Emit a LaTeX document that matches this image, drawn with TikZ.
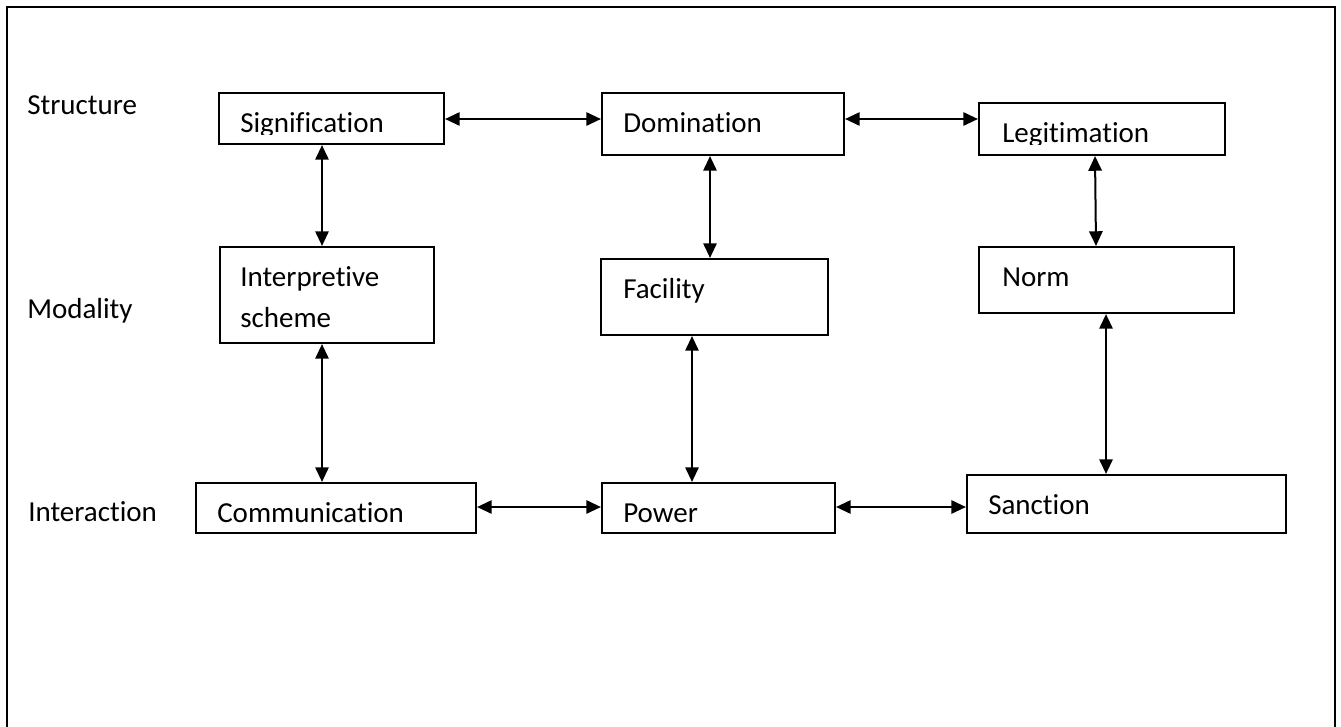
\documentclass[tikz,border=0pt]{standalone}
\usepackage{fontspec}
\setmainfont{Carlito}[Ligatures=NoCommon]
\usetikzlibrary{arrows.meta,fit}
\begin{document}
\begin{tikzpicture}[x=0.75pt,y=-0.75pt,
  box/.style={draw,line width=1.6pt,inner sep=0pt},
  lbl/.style={inner sep=0pt,anchor=base west,font=\fontsize{21.75pt}{26pt}\selectfont},
  link/.style={line width=1.5pt,{Triangle[length=11pt,width=10pt]}-{Triangle[length=11pt,width=10pt]}},
  frame/.style={line width=1.5pt}]
\useasboundingbox (0,0) rectangle (1341,726);
% outer frame (runs off the bottom of the page)
\draw[frame] (7,760) -- (7,7) -- (1335,7) -- (1335,760);

% row labels
\node[lbl] (lstruct) at (27,114) {Structure};
\node[lbl] (lmod) at (27,318) {Modality};
\node[lbl] (linter) at (28,521) {Interaction};

% boxes
\node[box,fit={(219,93)(444,144)}] (sig) {};
\node[box,fit={(602,93)(844,155)}] (dom) {};
\node[box,fit={(979,103)(1225,155)}] (leg) {};
\node[box,fit={(220,247)(434,343)}] (isc) {};
\node[box,fit={(601,259)(828,335)}] (fac) {};
\node[box,fit={(979,247)(1234,313)}] (nrm) {};
\node[box,fit={(196,483)(476,533)}] (com) {};
\node[box,fit={(602,483)(835,533)}] (pow) {};
\node[box,fit={(967,475)(1286,533)}] (san) {};

% box texts (descenders cut by the box's text area)
\begin{scope}
  \clip (219,93) rectangle (444,134);
  \node[lbl] (sigt) at (240,132) {Signification};
\end{scope}
\node[lbl] (domt) at (623,132) {Domination};
\begin{scope}
  \clip (979,103) rectangle (1225,144);
  \node[lbl] (legt) at (1002,142) {Legitimation};
\end{scope}
\node[lbl] (isct1) at (240,286) {Interpretive};
\node[lbl] (isct2) at (240,327) {scheme};
\node[lbl] (fact) at (623,298) {Facility};
\node[lbl] (nrmt) at (1002,286) {Norm};
\node[lbl] (comt) at (217,522) {Communication};
\node[lbl] (powt) at (623,522) {Power};
\node[lbl] (sant) at (988,514) {Sanction};

% horizontal links
\draw[link] (sig.east |- 0,119) -- (dom.west |- 0,119);
\draw[link] (dom.east |- 0,119) -- (leg.west |- 0,119);
\draw[link] (com.east |- 0,507) -- (pow.west |- 0,507);
\draw[link] (pow.east |- 0,507) -- (san.west |- 0,507);

% vertical links
\draw[link] (322,0 |- sig.south) -- (322,0 |- isc.north);
\draw[link] (322,0 |- isc.south) -- (322,0 |- com.north);
\draw[link] (710,0 |- dom.south) -- (710,0 |- fac.north);
\draw[link] (692,0 |- fac.south) -- (692,0 |- pow.north);
\draw[link] (1095,0 |- leg.south) -- (1096,0 |- nrm.north);
\draw[link] (1106,0 |- nrm.south) -- (1106,0 |- san.north);
\end{tikzpicture}
\end{document}
